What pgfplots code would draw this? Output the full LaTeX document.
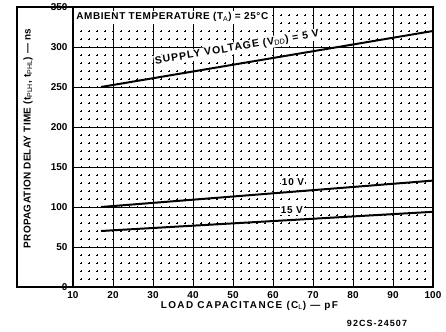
\documentclass[border=0pt]{standalone}
\usepackage{pgfplots}
\pgfplotsset{compat=1.18}
\usepackage{fontspec}
\setmainfont{Liberation Sans}
\newcommand\ls[2]{\fontsize{#1}{#1}\selectfont\bfseries\addfontfeature{LetterSpace=#2}}
\begin{document}
\begin{tikzpicture}
\begin{axis}[
  scale only axis, width=360bp, height=280bp,
  xmin=10, xmax=100, ymin=0, ymax=350,
  xtick={10,20,...,100}, ytick={0,50,...,350},
  minor xtick={12,14,...,98}, minor ytick={10,20,...,340},
  grid=both,
  major grid style={black, line width=0.9pt},
  minor x grid style={black, line width=1pt, dash pattern=on 2.4bp off 5.6bp, dash phase=1.2bp},
  minor y grid style={black, line width=1pt, dash pattern=on 1.2bp off 6.8bp, dash phase=0.6bp},
  axis line style={black, line width=1.2pt},
  tick style={draw=none},
  tick label style={font=\fontsize{10}{11}\selectfont\bfseries},
  /pgf/number format/assume math mode=true,
  xticklabel style={anchor=center, yshift=-8bp},
  yticklabel style={anchor=east, xshift=-2bp},
  xlabel={\ls{10}{14}LOAD CAPACITANCE (C$_\mathrm{L}$) --- pF},
  ylabel={\ls{10}{3}PROPAGATION DELAY TIME (t$_\mathrm{PLH}$, t$_\mathrm{PHL}$) --- ns},
  xlabel style={at={(axis description cs:0.49,0)}, anchor=center, yshift=-18.5bp},
  ylabel style={at={(axis description cs:0,0.53)}, anchor=center, yshift=45bp},
  clip=false,
]
\addplot[black, line width=2pt] coordinates {(17,250) (100,320)};
\addplot[black, line width=2pt] coordinates {(17,100) (100,133)};
\addplot[black, line width=2pt] coordinates {(17,70) (100,94)};
\node[anchor=west, fill=white, inner sep=2pt] at (axis cs:10.3,337) {\ls{10}{6}AMBIENT TEMPERATURE (T$_\mathrm{A}$) = 25\textdegree C};
\node[rotate=9.5, fill=white, inner sep=1pt] at (axis cs:51,299) {\ls{10.5}{10}SUPPLY VOLTAGE (V$_\mathrm{DD}$) = 5 V};
\node[fill=white, inner sep=1pt] at (axis cs:65,131) {\ls{10}{8}10 V};
\node[fill=white, inner sep=1pt] at (axis cs:64.7,96) {\ls{10}{8}15 V};
\node at (axis cs:86,-45) {\ls{9}{12}92CS-24507};
\draw[black, line width=1.2pt] (rel axis cs:0,0) -- ([xshift=-56bp]rel axis cs:0,0) -- ([xshift=-56bp]rel axis cs:0,1) -- (rel axis cs:0,1);
\end{axis}
\path ([shift={(-73bp,-44bp)}]current axis.south west) rectangle ([shift={(13bp,7bp)}]current axis.north east);
\end{tikzpicture}
\end{document}
